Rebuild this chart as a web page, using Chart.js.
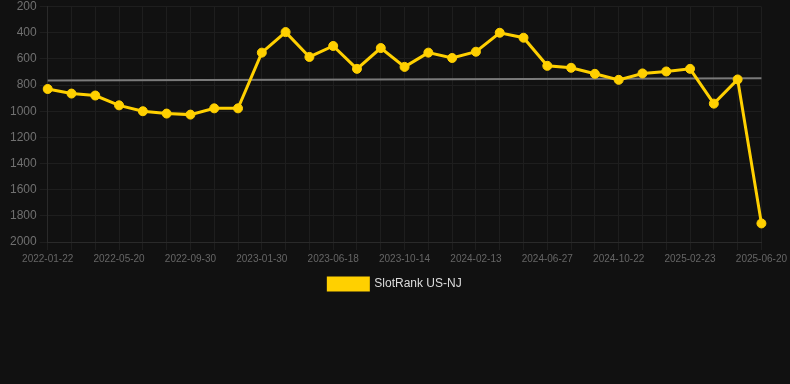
<!DOCTYPE html>
<html>
<head>
<meta charset="utf-8">
<script src="https://cdn.jsdelivr.net/npm/chart.js@4/dist/chart.umd.min.js"></script>
<style>
    html, body { margin:0; padding:0; background:#111111; }
    #wrap { width:790px; height:300px; }
</style>
</head>
<body>
<div id="wrap"><canvas id="rankChart"></canvas></div>
<script>

// DATA

const dates = [
    "2022-01-22","2022-03-03","2022-04-11","2022-05-20","2022-07-02","2022-08-16",
    "2022-09-30","2022-11-10","2022-12-20","2023-01-30","2023-03-16","2023-05-02",
    "2023-06-18","2023-07-27","2023-09-04","2023-10-14","2023-11-23","2024-01-03",
    "2024-02-13","2024-03-29","2024-05-13","2024-06-27","2024-08-04","2024-09-13",
    "2024-10-22","2024-12-01","2025-01-12","2025-02-23","2025-04-05","2025-05-13",
    "2025-06-20"
];

const rankValues = [
    830, 865, 880, 955, 1000, 1018, 1026, 978, 978, 552, 395,
    585, 501, 676, 517, 661, 552, 593, 545, 400, 438,
    653, 668, 714, 760, 711, 696, 676, 942, 757, 1858
];

// trend line: only the two ends, gap spanned in between
const trendValues = [765].concat(new Array(29).fill(null), [747]);

const yTicks = [200, 400, 600, 800, 1000, 1200, 1400, 1600, 1800, 2000];

// CHART

Chart.defaults.font.family = "'Liberation Sans', Arial, sans-serif";

new Chart(document.getElementById("rankChart"),{

    type:"line",

    data:{

        labels:dates,

        datasets:[
            {
                label:"SlotRank US-NJ",
                data:rankValues,
                borderColor:"#FFD000",
                backgroundColor:"#FFD000",
                borderWidth:3,
                pointRadius:4.5,
                pointHoverRadius:4.5,
                pointBorderWidth:1,
                pointBackgroundColor:"#FFD000",
                pointBorderColor:"#FFD000",
                tension:0
            },
            {
                label:"trend",
                data:trendValues,
                borderColor:"#7a7a7a",
                borderWidth:2,
                pointRadius:0,
                spanGaps:true
            }
        ]
    },

    options:{
        responsive:true,
        maintainAspectRatio:false,
        animation:false,

        plugins:{
            legend:{
                position:"bottom",
                labels:{
                    color:"#dddddd",
                    font:{ size:12 },
                    boxWidth:40,
                    boxHeight:12,
                    filter:item => item.text !== "trend"
                }
            },
            tooltip:{ enabled:false }
        },

        scales:{
            x:{
                grid:{ color:"#1e1e1e" },
                border:{ color:"#2a2a2a" },
                ticks:{
                    color:"#666666",
                    font:{ size:10 },
                    maxRotation:0,
                    autoSkip:false,
                    callback:function(v, i){
                        return i % 3 === 0 ? dates[i] : "";
                    }
                }
            },
            y:{
                reverse:true,
                min:yTicks[0],
                max:yTicks[yTicks.length - 1],
                grid:{ color:"#1e1e1e" },
                border:{ color:"#2a2a2a" },
                afterBuildTicks:axis => {
                    axis.ticks = yTicks.map(v => ({ value:v }));
                },
                afterFit:axis => {
                    axis.width += 7;
                },
                ticks:{
                    color:"#707070",
                    font:{ size:12, lineHeight:0.6 },
                    callback:v => String(v)
                }
            }
        }
    }
});

</script>
</body>
</html>
